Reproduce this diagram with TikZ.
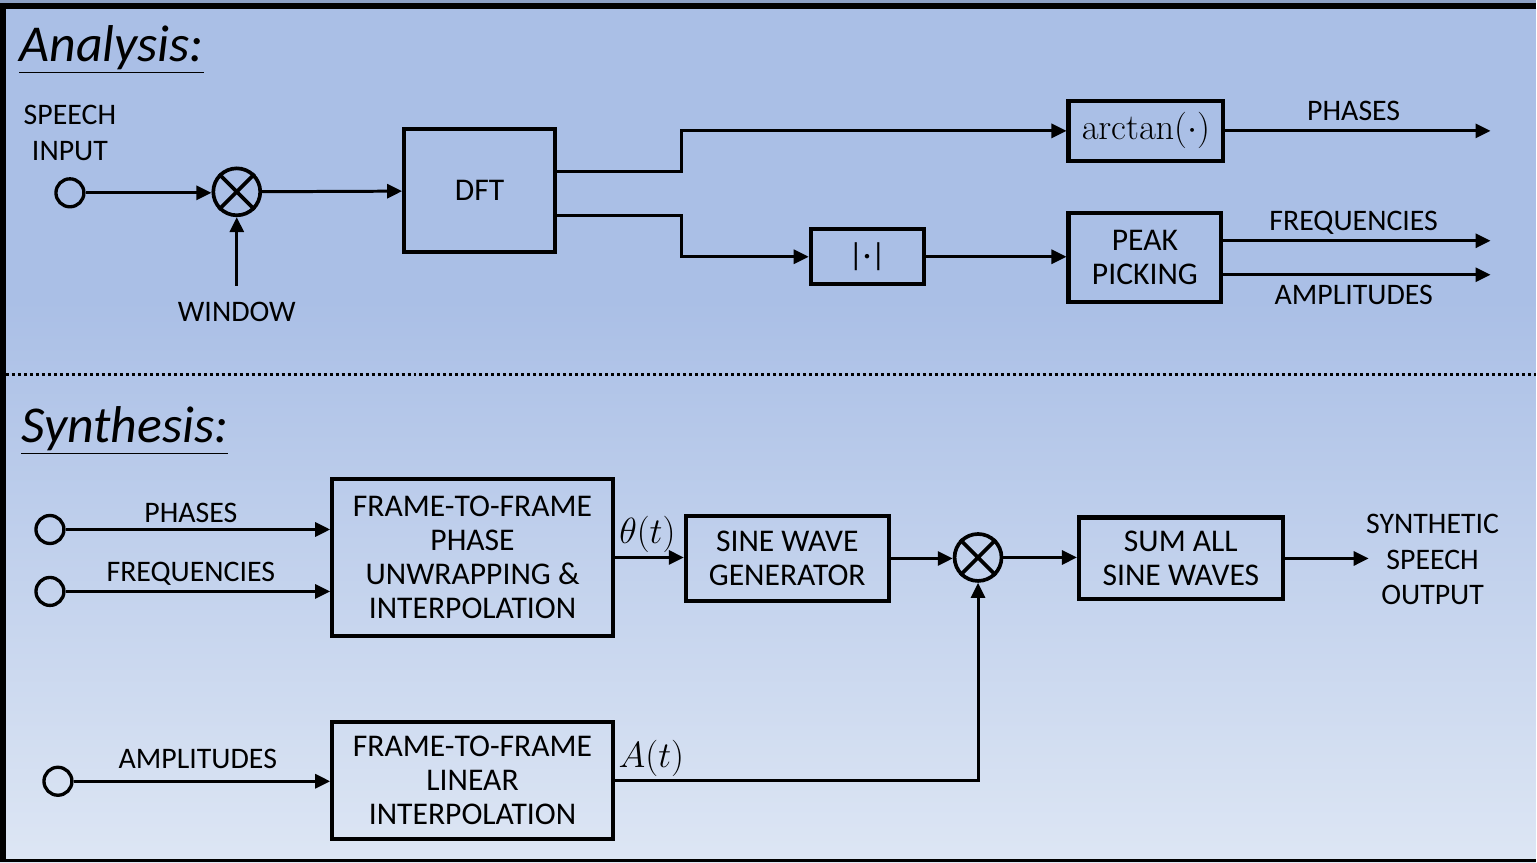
\documentclass[tikz,border=0pt]{standalone}
\usepackage[no-math]{fontspec}
\setmainfont{Carlito}
\usetikzlibrary{arrows.meta,positioning}
\definecolor{bgtop}{RGB}{170,191,230}
\definecolor{bgbot}{RGB}{221,230,244}
\definecolor{edge}{RGB}{140,160,196}

\begin{document}
\begin{tikzpicture}[x=0.02cm, y=-0.02cm, >={Triangle[length=0.3cm,width=0.28cm]},
   line width=1.7pt,
   blk/.style={draw, line width=2.3pt, align=center, inner sep=0pt,
               font=\fontsize{18}{19.5}\selectfont},
   lbl/.style={align=center, inner sep=0pt, font=\fontsize{17}{20}\selectfont},
   src/.style={circle, draw, line width=1.9pt, minimum size=0.56cm, inner sep=0pt},
   mul/.style={circle, draw, line width=2.1pt, minimum size=0.94cm, inner sep=0pt},
   ttl/.style={anchor=base west, inner sep=0pt, font=\fontsize{29.5}{32}\selectfont\itshape},
   sig/.style={inner sep=0pt, font=\fontsize{22}{24}\selectfont}]
% background and frame
\fill[bgtop] (0,0) rectangle (1537,300);
\shade[top color=bgtop, bottom color=bgbot] (0,300) rectangle (1537,863);
\fill[edge] (0,0) rectangle (1537,3);
\fill[black] (0,3) rectangle (1537,9);
\fill[black] (0,3) rectangle (6,863);
\fill[black] (0,860) rectangle (1537,863);
\draw[line width=0.06cm, dash pattern=on 0.06cm off 0.06cm] (6,375) -- (1537,375);

% analysis
\node[ttl] (ana) at (18,62) {\underline{Analysis:}};
\node[src] (in) at (70,193) {};
\node[lbl] (inlbl) at (70,133) {SPEECH\\INPUT};
\node[mul] (m1) at (237,192) {};
\draw[line width=2.1pt] (m1.north east) -- (m1.south west) (m1.north west) -- (m1.south east);
\node[lbl] (win) at (237,312) {WINDOW};
\coordinate (w0) at (237,286);
\node[blk, minimum width=3.02cm, minimum height=2.46cm] (dft) at (480,191) {DFT};
\node[blk, minimum width=3.1cm, minimum height=1.2cm, font=\fontsize{22}{24}\selectfont] (atan) at (1147,131) {$\arctan(\cdot)$};
\node[blk, minimum width=2.26cm, minimum height=1.1cm] (abs) at (868,257) {|·|};
\node[blk, minimum width=3.06cm, minimum height=1.78cm] (peak) at (1146,258) {PEAK\\PICKING};
\coordinate (ph) at (1492,131);
\coordinate (fq) at (1492,241);
\coordinate (am) at (1492,275);
\node[lbl] (phl) at (1355,111) {PHASES};
\node[lbl] (fql) at (1355,223) {FREQUENCIES};
\node[lbl] (aml) at (1355,295) {AMPLITUDES};

\draw[->] (in) -- (in -| m1.west);
\draw[->] (w0) -- (m1.south);
\draw[->] (m1) -- (dft);
\draw[->] ([yshift=0.38cm]dft.east) -- ++(125,0) |- (atan.west);
\draw[->] ([yshift=-0.5cm]dft.east) -- ++(125,0) |- (abs.west);
\draw[->] (abs.east) -- (abs.east -| peak.west);
\draw[->] (atan.east) -- (ph);
\draw[->] (peak.east |- fq) -- (fq);
\draw[->] (peak.east |- am) -- (am);

% synthesis
\node[ttl] (syn) at (20,443) {\underline{Synthesis:}};
\node[src] (p0) at (50,530) {};
\node[src] (f0) at (50,592) {};
\node[src] (a0) at (58,782) {};
\node[lbl] (p0l) at (191,513) {PHASES};
\node[lbl] (f0l) at (191,574) {FREQUENCIES};
\node[lbl] (a0l) at (198,760) {AMPLITUDES};
\node[blk, minimum width=5.62cm, minimum height=3.14cm] (ftf) at (473,558)
   {FRAME-TO-FRAME\\PHASE\\UNWRAPPING \&\\INTERPOLATION};
\node[blk, minimum width=5.62cm, minimum height=2.34cm] (lin) at (473,781)
   {FRAME-TO-FRAME\\LINEAR\\INTERPOLATION};
\node[blk, minimum width=4.06cm, minimum height=1.72cm] (sine) at (788,559) {SINE WAVE\\GENERATOR};
\node[mul] (m2) at (979,558) {};
\draw[line width=2.1pt] (m2.north east) -- (m2.south west) (m2.north west) -- (m2.south east);
\node[blk, minimum width=4.08cm, minimum height=1.64cm] (sum) at (1182,559) {SUM ALL\\SINE WAVES};
\coordinate (out) at (1370,559);
\node[lbl] (outl) at (1434,560) {SYNTHETIC\\SPEECH\\OUTPUT};
\node[sig] (th) at (648,535) {$\theta(t)$};
\node[sig] (at) at (652,759) {$A(t)$};

\draw[->] (p0) -- (p0 -| ftf.west);
\draw[->] (f0) -- (f0 -| ftf.west);
\draw[->] (a0) -- (a0 -| lin.west);
\draw[->] (ftf.east) -- (ftf.east -| sine.west);
\draw[->] (sine.east) -- (sine.east -| m2.west);
\draw[->] (m2) -- (m2 -| sum.west);
\draw[->] (sum.east) -- (out);
\draw[->] (lin.east) -| (m2.south);
\end{tikzpicture}
\end{document}
